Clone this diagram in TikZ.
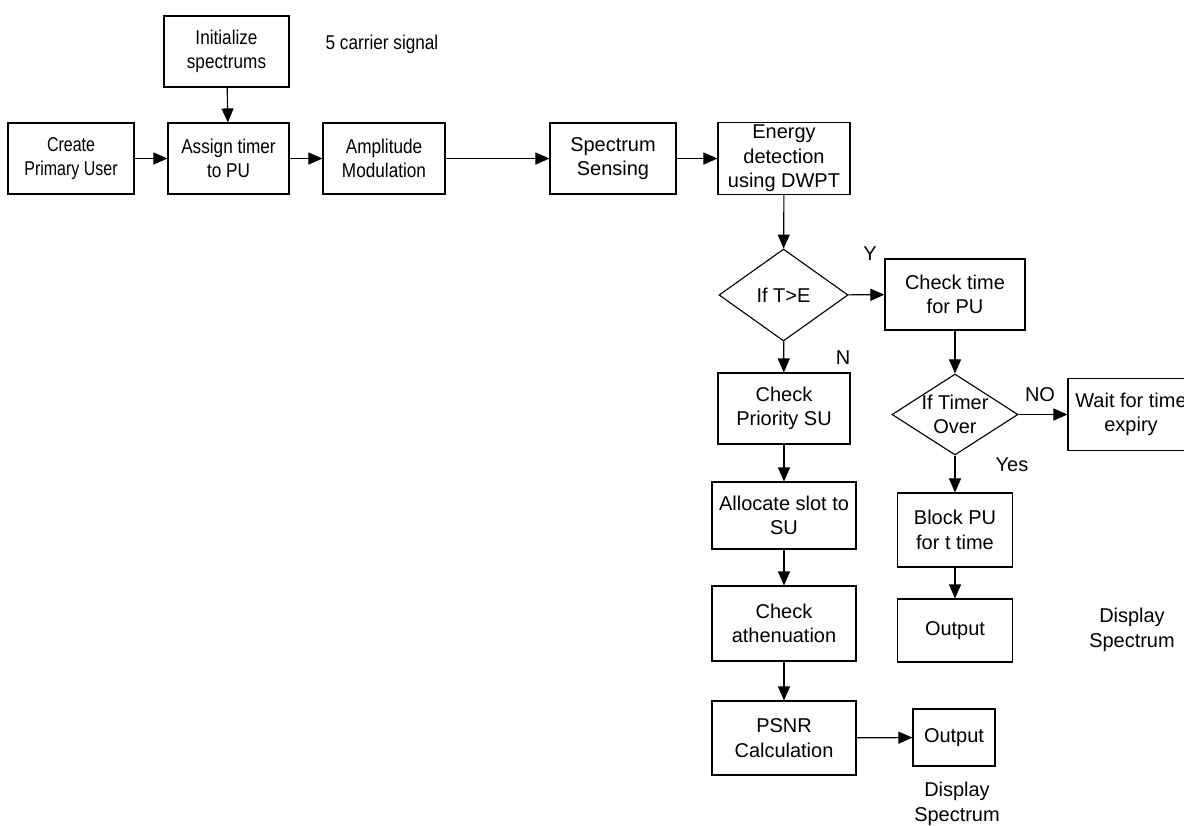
\documentclass[tikz,border=0pt]{standalone}
\usepackage{fontspec}
\setmainfont{Liberation Sans}
\newfontfamily\narrowfont[FakeStretch=0.86]{Liberation Sans}
\newfontfamily\narrowerfont[FakeStretch=0.8]{Liberation Sans}
\usetikzlibrary{arrows.meta,shapes.geometric}
\tikzset{
	stepbox/.style = {draw, align=center, inner sep=0pt},
	decision/.style = {draw, diamond, align=center, inner sep=0pt},
	flow/.style = {-{Triangle[length=0.35cm,width=0.3cm]}},
	narrow/.style = {font = \narrowfont\fontsize{14.2}{17.5}\selectfont},
	narrower/.style = {font = \narrowerfont\fontsize{14.2}{17.5}\selectfont},
}
\begin{document}
\begin{tikzpicture}[x = 0.025cm, y = -0.025cm, line width = 0.8pt, font = \fontsize{14.2}{17.5}\selectfont]
	\clip (0,0) rectangle (1184,825);
	\fill [white] (0,0) rectangle (1184,825);
	% top row
	\node [stepbox, narrower, minimum width = 3.15cm, minimum height = 1.775cm] (create) at (71,158.5) {Create\\Primary User};
	\node [stepbox, narrow, minimum width = 3.125cm, minimum height = 1.775cm] (init) at (226.5,51.5) {Initialize\\spectrums};
	\node [stepbox, narrow, minimum width = 3.025cm, minimum height = 1.775cm] (assign) at (228.5,158.5) {Assign timer\\to PU};
	\node [stepbox, narrow, minimum width = 3.05cm, minimum height = 1.775cm] (ampl) at (384,158.5) {Amplitude\\Modulation};
	\node [stepbox, minimum width = 3.15cm, minimum height = 1.775cm] (sense) at (613,158.5) {Spectrum\\Sensing};
	\node [stepbox, minimum width = 3.3cm, minimum height = 1.8cm] (energy) at (784,158.5) {Energy\\detection\\using DWPT};
	\node [narrow] (carrier) at (382,44) {5 carrier signal};
	% decisions
	\node [decision, minimum width = 3.225cm, minimum height = 2.3cm] (ifte) at (783.5,295) {If T>E};
	\node [decision, minimum width = 3.15cm, minimum height = 2.025cm, label = {[align=center]center:{If Timer\\Over}}] (iftimer) at (955,414.5) {};
	% PU branch
	\node [stepbox, minimum width = 3.5cm, minimum height = 1.775cm] (checktime) at (955,294.5) {Check time\\for PU};
	\node [stepbox, minimum width = 3.15cm, minimum height = 1.8cm] (wait) at (1131,414.5) {Wait for time\\expiry};
	\node [stepbox, minimum width = 2.875cm, minimum height = 1.85cm] (block) at (955,530) {Block PU\\for t time};
	\node [stepbox, minimum width = 2.875cm, minimum height = 1.575cm] (outpu) at (955,630.5) {Output};
	\node [align=center] (disppu) at (1132,630) {Display\\Spectrum};
	% SU branch
	\node [stepbox, minimum width = 3.3cm, minimum height = 1.775cm] (priority) at (784,408.5) {Check\\Priority SU};
	\node [stepbox, minimum width = 3.6cm, minimum height = 1.675cm] (allocate) at (784,515.5) {Allocate slot to\\SU};
	\node [stepbox, minimum width = 3.6cm, minimum height = 1.875cm] (athen) at (784,623.5) {Check\\athenuation};
	\node [stepbox, minimum width = 3.6cm, minimum height = 1.85cm] (psnr) at (784,738) {PSNR\\Calculation};
	\node [stepbox, minimum width = 2.05cm, minimum height = 1.425cm] (outsu) at (954,737.5) {Output};
	\node [align=center] (dispsu) at (957,804) {Display\\Spectrum};
	% branch labels
	\node (lby) at (870,254) {Y};
	\node (lbn) at (843,358) {N};
	\node (lbno) at (1040,395) {NO};
	\node (lbyes) at (1012,465) {Yes};
	% connectors
	\draw [flow] (create) -- (assign);
	\draw [flow] (init) -- (assign);
	\draw [flow] (assign) -- (ampl);
	\draw [flow] (ampl) -- (sense);
	\draw [flow] (sense) -- (energy);
	\draw [flow] (energy) -- (ifte);
	\draw [flow] (ifte) -- (checktime);
	\draw [flow] (ifte) -- (priority);
	\draw [flow] (checktime) -- (iftimer);
	\draw [flow] (iftimer) -- (wait);
	\draw [flow] (iftimer) -- (block);
	\draw [flow] (block) -- (outpu);
	\draw [flow] (priority) -- (allocate);
	\draw [flow] (allocate) -- (athen);
	\draw [flow] (athen) -- (psnr);
	\draw [flow] (psnr) -- (outsu);
\end{tikzpicture}
\end{document}
